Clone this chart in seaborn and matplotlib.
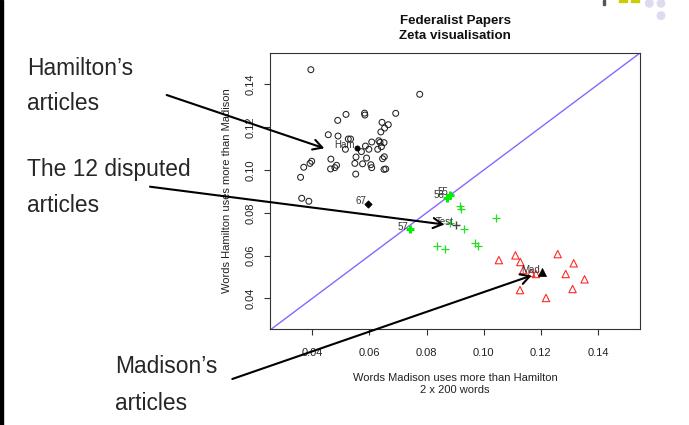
import matplotlib
matplotlib.use("Agg")
import matplotlib.pyplot as plt
import numpy as np
import pandas as pd
import seaborn as sns
from matplotlib.patches import Rectangle, Ellipse

# ---------------- data ----------------
ham_x = [0.0395, 0.0776, 0.0518, 0.0583, 0.0584, 0.0692, 0.0489, 0.0644, 0.0666, 0.0653,
         0.0456, 0.0490, 0.0640, 0.0526, 0.0534, 0.0608, 0.0633, 0.0637, 0.0651, 0.0516,
         0.0598, 0.0629, 0.0642, 0.0586, 0.0572, 0.0553, 0.0590, 0.0652, 0.0646, 0.0465,
         0.0398, 0.0392, 0.0549, 0.0576, 0.0605, 0.0608, 0.0370, 0.0485, 0.0479, 0.0464,
         0.0651, 0.0657, 0.0552, 0.0359, 0.0363, 0.0388]
ham_y = [0.1469, 0.1354, 0.1260, 0.1266, 0.1257, 0.1265, 0.1232, 0.1223, 0.1212, 0.1196,
         0.1165, 0.1159, 0.1178, 0.1145, 0.1145, 0.1131, 0.1137, 0.1129, 0.1128, 0.1097,
         0.1097, 0.1097, 0.1109, 0.1112, 0.1086, 0.1061, 0.1056, 0.1062, 0.1053, 0.1051,
         0.1041, 0.1031, 0.1031, 0.1029, 0.1025, 0.1011, 0.1013, 0.1022, 0.1011, 0.1005,
         0.1003, 0.1005, 0.0981, 0.0966, 0.0868, 0.0854]

dis_x = [0.0917, 0.0920, 0.1042, 0.0882, 0.0931, 0.0838, 0.0866, 0.0970, 0.0980]
dis_y = [0.0832, 0.0816, 0.0777, 0.0751, 0.0723, 0.0645, 0.0631, 0.0660, 0.0643]

hl_labels = ["55", "56", "57"]
hl_x = [0.0882, 0.0870, 0.0742]
hl_y = [0.0883, 0.0871, 0.0723]

p67_label = ["67"]
p67_x = [0.0596]
p67_y = [0.0840]

mad_x = [0.1053, 0.1111, 0.1128, 0.1259, 0.1315, 0.1287, 0.1353, 0.1311, 0.1218, 0.1127,
         0.1139, 0.1166, 0.1183]
mad_y = [0.0579, 0.0601, 0.0570, 0.0607, 0.0564, 0.0514, 0.0489, 0.0444, 0.0402, 0.0439,
         0.0533, 0.0519, 0.0514]

cen_labels = ["Ham", "Test", "Mad"]
cen_x = [0.0556, 0.0903, 0.1203]
cen_y = [0.1103, 0.0745, 0.0522]

xticks = [0.04, 0.06, 0.08, 0.10, 0.12, 0.14]
yticks = [0.04, 0.06, 0.08, 0.10, 0.12, 0.14]

title_text = "Federalist Papers\nZeta visualisation"
xlabel_text = "Words Madison uses more than Hamilton\n2 x 200 words"
ylabel_text = "Words Hamilton uses more than Madison"

# ---------------- style ----------------
sns.set_style("ticks")
plt.rcParams["font.family"] = ["Liberation Sans", "DejaVu Sans"]

W, H = 689, 425
fig = plt.figure(figsize=(W / 100, H / 100), dpi=100)
ax = fig.add_axes([270 / W, 1 - 329 / H, 370 / W, 276 / H])

ham = pd.DataFrame({"x": ham_x, "y": ham_y})
dis = pd.DataFrame({"x": dis_x, "y": dis_y})
hl = pd.DataFrame({"x": hl_x, "y": hl_y, "label": hl_labels})
p67 = pd.DataFrame({"x": p67_x, "y": p67_y, "label": p67_label})
mad = pd.DataFrame({"x": mad_x, "y": mad_y})
cen = pd.DataFrame({"x": cen_x, "y": cen_y, "label": cen_labels})

ax.set_xlim(0.0252, 0.1547)
ax.set_ylim(0.0257, 0.1547)

# diagonal y = x
ax.axline((0.0, 0.0), slope=1, color="#8866ff", lw=1.0, zorder=1)

sns.scatterplot(data=ham, x="x", y="y", ax=ax, marker="o", s=18,
                facecolors="none", edgecolor="#222222", linewidth=0.75, zorder=3)
sns.scatterplot(data=mad, x="x", y="y", ax=ax, marker="^", s=28,
                facecolors="none", edgecolor="#ff2a2a", linewidth=0.8, zorder=3)
sns.scatterplot(data=dis, x="x", y="y", ax=ax, marker="+", s=30,
                color="#22dd22", linewidth=0.9, zorder=3)
sns.scatterplot(data=hl, x="x", y="y", ax=ax, marker="+", s=34,
                color="#00ee00", linewidth=2.2, zorder=4)
sns.scatterplot(data=p67, x="x", y="y", ax=ax, marker="D", s=14,
                color="black", edgecolor="black", linewidth=0.5, zorder=4)

cen_markers = {"Ham": "o", "Test": "+", "Mad": "^"}
cen_sizes = {"Ham": 14, "Test": 30, "Mad": 34}
for lab in cen_labels:
    sub = cen[cen["label"] == lab]
    m = cen_markers[lab]
    if m == "+":
        sns.scatterplot(data=sub, x="x", y="y", ax=ax, marker=m, s=cen_sizes[lab],
                        color="#444444", linewidth=1.0, zorder=5)
    else:
        sns.scatterplot(data=sub, x="x", y="y", ax=ax, marker=m, s=cen_sizes[lab],
                        color="black", edgecolor="black", linewidth=0.5, zorder=5)

# point labels (to the left of the points)
for df in (hl, p67, cen):
    for _, r in df.iterrows():
        ax.annotate(r["label"], (r["x"], r["y"]), xytext=(-1.5, 2), textcoords="offset points",
                    ha="right", va="center", fontsize=7, color="#333333", zorder=6)

# axes decoration
for s in ax.spines.values():
    s.set_visible(True)
    s.set_color("#333333")
    s.set_linewidth(0.8)
ax.set_xticks(xticks)
ax.set_xticklabels([f"{v:.2f}" for v in xticks])
ax.set_yticks(yticks)
ax.set_yticklabels([f"{v:.2f}" for v in yticks], rotation=90, va="center")
ax.tick_params(axis="x", length=4, width=0.8, color="#333333", pad=10, labelsize=8,
               labelcolor="#222222")
ax.tick_params(axis="y", length=4, width=0.8, color="#333333", pad=6.5, labelsize=8,
               labelcolor="#222222")

ax.set_xlabel(xlabel_text, fontsize=8, color="#222222", linespacing=1.3)
ax.xaxis.set_label_coords(0.5, (329 - 373) / 276)
ax.set_ylabel(ylabel_text, fontsize=8, color="#222222")
ax.yaxis.set_label_coords((232 - 270) / 370, 0.5)
ax.set_title(title_text, fontsize=9.6, fontweight="bold", color="#111111",
             linespacing=1.4, pad=10)

# ---------------- slide annotations ----------------
def fy(py):
    return H - py

big = 16.4
fig.text(27 / W, 1 - 75 / H, "Hamilton’s", fontsize=big, va="baseline", ha="left")
fig.text(27 / W, 1 - 110 / H, "articles", fontsize=big, va="baseline", ha="left")
fig.text(27 / W, 1 - 176 / H, "The 12 disputed", fontsize=big, va="baseline", ha="left")
fig.text(27 / W, 1 - 212 / H, "articles", fontsize=big, va="baseline", ha="left")
fig.text(115 / W, 1 - 373 / H, "Madison’s", fontsize=big, va="baseline", ha="left")
fig.text(115 / W, 1 - 410 / H, "articles", fontsize=big, va="baseline", ha="left")

arrows = [((166.7, 95.0), (324.3, 148.3)),
          ((150.0, 186.7), (444.3, 224.5)),
          ((232.3, 379.0), (531.7, 275.5))]
for (x0, y0), (x1, y1) in arrows:
    ax.annotate("", xy=(x1, fy(y1)), xycoords="figure pixels",
                xytext=(x0, fy(y0)), textcoords="figure pixels",
                arrowprops=dict(arrowstyle="->,head_length=0.5,head_width=0.28",
                                lw=1.5, color="black", shrinkA=0, shrinkB=0,
                                mutation_scale=13),
                annotation_clip=False, zorder=10)

# slide frame / logo fragments
fig.patches.append(Rectangle((0, 0), 2.5, H, transform=None, color="black", zorder=20))
fig.patches.append(Rectangle((603, fy(5)), 2, 5, transform=None, color="#555555"))
fig.patches.append(Rectangle((619, fy(2)), 8, 2, transform=None, color="#cccc00"))
fig.patches.append(Rectangle((631, fy(2)), 8, 2, transform=None, color="#cccc00"))
for cx, cy in [(649.3, 3.3), (661, 3.3), (661, 15.7)]:
    fig.patches.append(Ellipse((cx, fy(cy)), 7.5, 7.5, transform=None, color="#dcdcee"))

fig.savefig("out.png", dpi=100)
